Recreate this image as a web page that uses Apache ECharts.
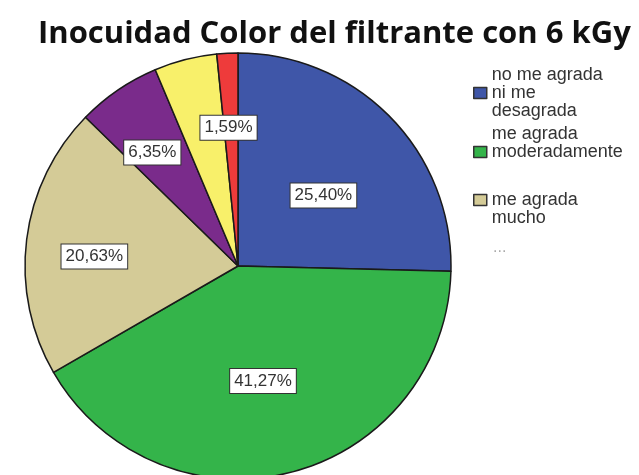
<!DOCTYPE html>
<html>
<head>
<meta charset="utf-8">
<script src="https://cdn.jsdelivr.net/npm/echarts@6/dist/echarts.min.js"></script>
<style>
  html, body { margin: 0; padding: 0; background: #fff; }
  #chart { width: 639px; height: 475px; }
</style>
</head>
<body>
<div id="chart"></div>
<script>
const categories = [
  "no me agrada ni me desagrada",
  "me agrada moderadamente",
  "me agrada mucho",
  "categoría 4",
  "categoría 5",
  "categoría 6"
];
const percents = [25.40, 41.27, 20.63, 6.35, 4.76, 1.59];
const showLabel = [true, true, true, true, false, true];
const sliceColors = ["#3f56a8", "#34b44a", "#d4cb97", "#7a2b8b", "#f8f06a", "#ee3b3b"];
const legendTexts = [
  "no me agrada\nni me\ndesagrada",
  "me agrada\nmoderadamente\n ",
  " \nme agrada\nmucho"
];

// small nudges so the boxes sit where the original put them
const labelNudge = [[7, 6], [-2, 9], [-35, 4], [-24, -23], [0, 0], [-4, -29]];

function fmtPct(v) {
  return v.toFixed(2).replace(".", ",") + "%";
}

const chart = echarts.init(document.getElementById("chart"));

const legendTops = [61, 120, 168];
const legends = legendTexts.map((txt, i) => ({
  data: [categories[i]],
  orient: "vertical",
  left: 468,
  top: legendTops[i],
  icon: "rect",
  itemWidth: 13,
  itemHeight: 11,
  itemGap: 0,
  selectedMode: false,
  formatter: () => txt,
  itemStyle: { borderColor: "#333", borderWidth: 1.5 },
  textStyle: {
    fontFamily: "Liberation Sans, Arial, sans-serif",
    fontSize: 18,
    lineHeight: 18,
    color: "#333"
  }
}));

chart.setOption({
  animation: false,
  title: {
    text: "Inocuidad Color del filtrante con 6 kGy",
    left: 33,
    top: 14,
    textStyle: {
      fontFamily: "Open Sans, sans-serif",
      fontWeight: "bold",
      fontSize: 31,
      color: "#111"
    }
  },
  legend: legends,
  graphic: [{
    type: "text",
    left: 493,
    top: 240,
    style: { text: "...", fill: "#aaa", font: "16px Liberation Sans, Arial, sans-serif" }
  }],
  series: [{
    type: "pie",
    center: [238, 266],
    radius: [0, 213],
    startAngle: 90,
    clockwise: true,
    avoidLabelOverlap: false,
    itemStyle: { borderColor: "#1a1a1a", borderWidth: 1.5 },
    label: {
      position: "inside",
      formatter: p => fmtPct(p.value),
      fontFamily: "Liberation Sans, Arial, sans-serif",
      fontSize: 17,
      color: "#333",
      backgroundColor: "#fff",
      borderColor: "#333",
      borderWidth: 1,
      padding: [4, 4, 3, 4]
    },
    labelLine: { show: false },
    labelLayout: p => ({ dx: labelNudge[p.dataIndex][0], dy: labelNudge[p.dataIndex][1] }),
    emphasis: { disabled: true },
    data: categories.map((name, i) => ({
      name,
      value: percents[i],
      itemStyle: { color: sliceColors[i] },
      label: { show: showLabel[i] }
    }))
  }]
});
</script>
</body>
</html>
